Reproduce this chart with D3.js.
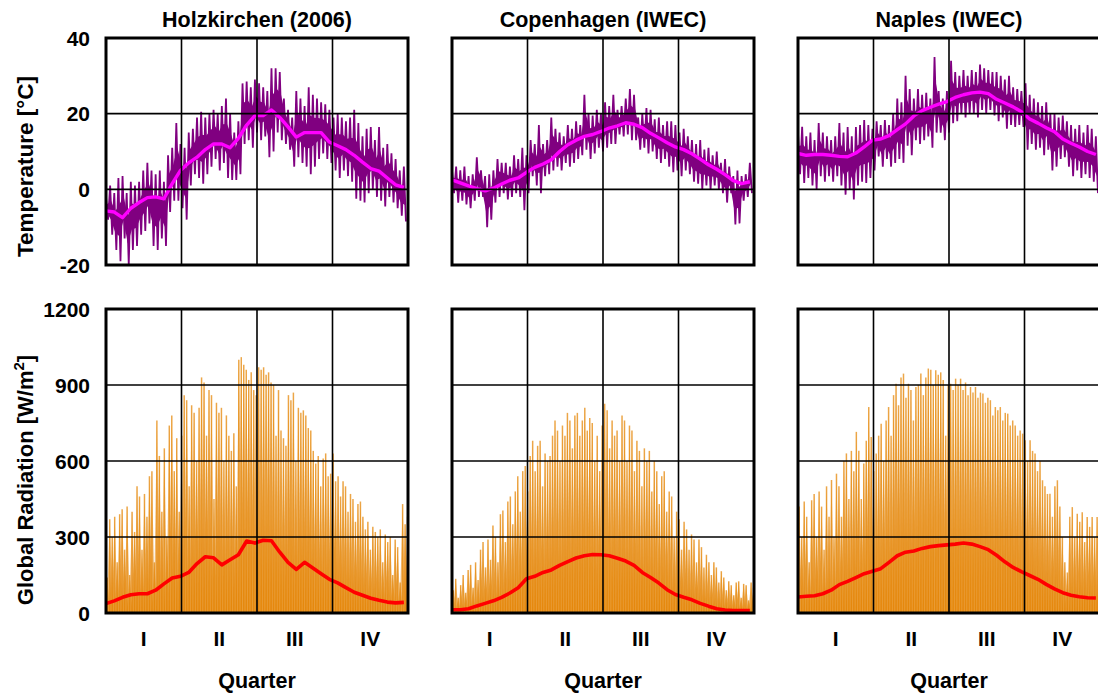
<!DOCTYPE html>
<html>
  <head>
    <meta charset="utf-8">
    <title>Temperature and global radiation</title>
    <script src="https://cdn.jsdelivr.net/npm/d3@7"></script>
    <style>
      body { margin: 0; background: #fff; }
      svg text { font-family: "Liberation Sans", Arial, sans-serif; font-weight: bold; fill: #000; }
    </style>
  </head>
  <body>
    <svg id="chart" width="1098" height="695"></svg>

    <script>
      // axis labels
      quarterLabels = ["I", "II", "III", "IV"];
      tempTicks = [-20, 0, 20, 40];
      radTicks = [0, 300, 600, 900, 1200];
      stationNames = ["Holzkirchen (2006)", "Copenhagen (IWEC)", "Naples (IWEC)"];

      // temperature peaks, one high/low pair every 5 days [°C]
      holzTempHigh = [-2, 1, -1, 3, 3.5, -1, 2, 1, 2, 5, 7, 5, 4, 5, 2, 9, 11, 17.5, 12, 11, 15, 16, 19, 20.5, 19, 20, 21, 20, 22, 24, 20, 15, 18, 28, 28.5, 27, 29, 28, 27, 26, 32, 32, 31, 24, 21, 19, 26, 24, 22, 27, 25, 24, 23, 22.5, 21, 19, 20, 19, 18, 19, 21, 17.5, 14, 16, 16.5, 13, 16.5, 11, 12, 9.5, 8, 5, 6];
      holzTempLow = [-8, -12, -16, -19, -13, -20, -16, -15, -12, -11, -9, -15, -16, -13, -15, -6, -3, -3, -5, -8, 1, 4, 3, 1.5, 4, 6, 8, 5, 7, 3, 2.5, 2.5, 4, 12, 13, 11, 15, 13, 14, 8.5, 10, 15, 13, 12, 10.5, 6, 8.5, 7, 6, 4, 6, 8, 9.5, 8, 7, 5, 3, 5, 3.5, 2, -2.5, -3, -3.5, -1, 0, -2, -3, -4.5, -2, -3.5, -5, -7, -8.5];
      copTempHigh = [5, 6, 5, 6, 3.5, 4, 8.5, 5, 3.5, 4, 5, 8, 7, 7, 6, 9, 8, 11, 9, 13, 12, 17, 12, 13, 19, 16, 15, 14, 17, 16, 18, 17, 25, 20, 19.5, 21, 20, 23, 22, 25, 21, 22, 24, 26.5, 25, 19, 20, 21.5, 21, 18.5, 19, 17, 18, 18, 17, 15, 16, 14, 13, 12, 13, 10.5, 11, 9, 10, 7, 8, 6, 3.5, 5, 3.5, 4, 7];
      copTempLow = [-1, -3.5, -3, -4, -5, -3, -2, -2, -10, -8, -3.5, -2, -1, -2.7, -2, -1, -2, -5.5, -1, 3.5, 1, -1, 3.5, 4, 5, 6, 5, 7, 6, 7, 8, 9, 10.5, 8, 9.5, 11, 10, 11, 12, 12, 14.5, 14, 14.5, 13, 13, 10.5, 11, 9.5, 10, 8, 7, 8, 6, 4.5, 5, 3.5, 5, 4, 2, 1.5, 0, 1, 0, 1, 0, -1, -3.5, -1, -9.3, -9, -3, -2, -1];
      napTempHigh = [15, 16.5, 14, 15, 13, 17.5, 15, 14, 13, 14, 17.5, 15, 16.5, 14, 16.5, 17, 18.3, 17, 16, 18, 17, 18.3, 17, 20, 24, 23, 30, 26.5, 24, 26.5, 25, 25.5, 24, 35, 26, 24, 26, 34, 31, 30, 31.5, 30, 31.5, 31, 33, 32, 31.5, 31, 31, 30, 29, 30, 27, 26.5, 26, 28, 25, 24, 23, 22, 23, 20, 20, 19, 19.5, 18, 17, 16, 17, 15, 17, 16, 14];
      napTempLow = [4, 1.7, 3, 1, 0, 3.5, 2, 3.5, 2, 3.5, 1, -1.4, 0, -2.7, 1, 2, 1.7, 3, 5, 8.7, 6, 8, 6, 7, 8, 7, 11.5, 9, 13, 12, 13, 14, 11, 15, 15, 13, 15, 17.5, 18, 20, 19, 20, 20, 19, 21, 20, 21, 19.5, 18, 19, 16, 17, 16.5, 17, 16.5, 10.5, 12, 10.5, 11, 9, 10.5, 5, 6, 8, 8.5, 6, 3.5, 5, 3, 4, 3, 2, -1];

      // moving average temperature, every 10 days [°C]
      holzTempAvg = [-5.7, -6, -7.5, -5, -3.5, -2.2, -2, -2.5, 1.5, 5, 7, 8.5, 10.5, 12, 12, 11, 13.5, 17, 19.5, 19.5, 21, 19, 16.5, 13.8, 15, 15, 15, 12.5, 11.5, 10.5, 9, 7.2, 5.5, 4.8, 3, 1.2, 0.5];
      copTempAvg = [2.5, 1.7, 0.9, 0.2, -0.4, 0.3, 1.4, 2.4, 3, 4.5, 5.8, 6.7, 7.8, 10, 11.8, 13, 14, 14.5, 15.3, 16.2, 16.8, 17.6, 17.2, 16.3, 14.8, 13.6, 12.3, 11.2, 10.5, 9.4, 8, 6.5, 5.3, 3.9, 2.3, 1.5, 2];
      napTempAvg = [9.5, 9, 9.2, 9.2, 9, 8.7, 8.6, 9.6, 11.2, 13, 13.3, 14.2, 15.8, 17.3, 19.4, 20.8, 21.7, 22.5, 23.2, 24.3, 25, 25.5, 25.7, 25.3, 23.8, 22.8, 21.8, 20.5, 18.6, 17.5, 16.3, 15.2, 13.3, 12.2, 11.2, 10, 9.2];

      // daily radiation peaks, every 3 days [W/m2]
      holzRad = [140, 370, 300, 380, 200, 390, 410, 250, 420, 150, 400, 320, 500, 460, 250, 470, 380, 540, 560, 200, 760, 620, 400, 650, 300, 740, 780, 560, 690, 400, 700, 860, 840, 500, 820, 790, 600, 810, 930, 910, 700, 880, 860, 450, 830, 790, 810, 600, 780, 700, 640, 710, 500, 1000, 1010, 980, 960, 920, 950, 880, 860, 970, 960, 970, 940, 950, 910, 900, 700, 880, 720, 690, 660, 860, 840, 870, 600, 810, 790, 800, 780, 730, 720, 640, 590, 620, 500, 610, 630, 540, 550, 630, 520, 540, 460, 520, 500, 400, 470, 450, 360, 430, 440, 380, 330, 360, 250, 340, 320, 300, 330, 200, 310, 280, 300, 150, 290, 260, 120, 430, 350, 380];
      copRad = [90, 135, 60, 110, 150, 80, 170, 190, 100, 200, 130, 250, 280, 180, 290, 210, 345, 300, 200, 390, 405, 280, 440, 460, 350, 480, 540, 400, 560, 580, 480, 620, 680, 560, 660, 680, 500, 630, 600, 620, 700, 760, 720, 600, 740, 700, 790, 760, 650, 780, 790, 700, 760, 810, 720, 770, 750, 600, 700, 560, 740, 826, 800, 650, 760, 700, 720, 600, 780, 760, 600, 740, 720, 560, 680, 640, 500, 650, 600, 640, 480, 600, 560, 430, 540, 560, 400, 480, 460, 300, 400, 370, 250, 360, 330, 250, 310, 290, 200, 290, 260, 180, 230, 200, 150, 200, 180, 120, 165, 140, 90, 125, 110, 70, 120, 125, 60, 115, 110, 50, 120, 100];
      napRad = [420, 300, 440, 380, 200, 445, 470, 300, 480, 420, 250, 500, 380, 525, 300, 550, 500, 380, 600, 630, 450, 640, 560, 715, 640, 450, 590, 680, 813, 695, 560, 630, 700, 747, 600, 760, 813, 700, 860, 905, 820, 930, 945, 850, 905, 880, 760, 892, 900, 945, 860, 930, 965, 960, 900, 958, 940, 950, 920, 700, 900, 905, 880, 925, 900, 925, 880, 910, 860, 892, 870, 892, 850, 870, 866, 830, 850, 840, 780, 813, 800, 813, 760, 790, 787, 740, 760, 740, 700, 720, 708, 682, 600, 682, 640, 630, 560, 600, 524, 500, 470, 471, 380, 500, 524, 420, 300, 200, 160, 380, 418, 300, 392, 360, 398, 280, 379, 340, 379, 300, 379, 360];

      // moving average radiation, every 10 days [W/m2]
      holzRadAvg = [37, 48, 62, 72, 76, 76, 90, 115, 138, 145, 160, 195, 222, 218, 190, 210, 230, 284, 276, 287, 285, 240, 200, 172, 200, 178, 155, 133, 119, 100, 82, 70, 58, 50, 43, 40, 42];
      copRadAvg = [13, 13, 17, 28, 38, 48, 62, 79, 100, 135, 145, 160, 170, 188, 203, 217, 226, 231, 230, 226, 216, 205, 188, 160, 140, 118, 92, 73, 62, 52, 38, 27, 17, 12, 10, 10, 10];
      napRadAvg = [63, 66, 68, 76, 90, 112, 125, 140, 155, 165, 175, 200, 226, 240, 245, 255, 262, 266, 269, 272, 276, 272, 262, 250, 228, 202, 180, 163, 148, 133, 113, 95, 80, 70, 64, 60, 59];

      tempStep = 5;
      radStep = 3;
      avgStep = 10;

      stations = [
        {name: stationNames[0], high: holzTempHigh, low: holzTempLow, tempAvg: holzTempAvg, rad: holzRad, radAvg: holzRadAvg},
        {name: stationNames[1], high: copTempHigh, low: copTempLow, tempAvg: copTempAvg, rad: copRad, radAvg: copRadAvg},
        {name: stationNames[2], high: napTempHigh, low: napTempLow, tempAvg: napTempAvg, rad: napRad, radAvg: napRadAvg}
      ];

      // layout
      svg = d3.select("#chart");
      panelLeft = [106, 452, 798];
      panelWidth = 302;
      top1 = 38; bottom1 = 265;
      top2 = 309; bottom2 = 613;

      yTemp = d3.scaleLinear().domain([-20, 40]).range([bottom1, top1]);
      yRad = d3.scaleLinear().domain([0, 1200]).range([bottom2, top2]);

      // y axis labels (left column only)
      svg.selectAll(".tempTick")
        .data(tempTicks)
        .enter().append("text")
          .attr("x", 90)
          .attr("y", function(d) { return yTemp(d); })
          .attr("dy", "0.36em")
          .attr("text-anchor", "end")
          .style("font-size", "21px")
          .text(function(d) { return d; });
      svg.selectAll(".radTick")
        .data(radTicks)
        .enter().append("text")
          .attr("x", 90)
          .attr("y", function(d) { return yRad(d); })
          .attr("dy", "0.36em")
          .attr("text-anchor", "end")
          .style("font-size", "21px")
          .text(function(d) { return d; });

      svg.append("text")
        .attr("transform", "translate(33," + ((top1 + bottom1) / 2 + 15) + ") rotate(-90)")
        .attr("text-anchor", "middle")
        .style("font-size", "22.5px")
        .text("Temperature [°C]");
      radTitle = svg.append("text")
        .attr("transform", "translate(33," + ((top2 + bottom2) / 2 + 19) + ") rotate(-90)")
        .attr("text-anchor", "middle")
        .style("font-size", "22px");
      radTitle.append("tspan").text("Global Radiation [W/m");
      radTitle.append("tspan").attr("dy", "-9").style("font-size", "15px").text("2");
      radTitle.append("tspan").attr("dy", "9").text("]");

      stations.forEach(function(s, k) {
        x0 = panelLeft[k];
        x = d3.scaleLinear().domain([0, 365]).range([x0, x0 + panelWidth]);
        g = svg.append("g");

        g.append("text")
          .attr("x", x0 + panelWidth / 2)
          .attr("y", 27)
          .attr("text-anchor", "middle")
          .style("font-size", "21.5px")
          .text(s.name);

        defs = g.append("defs");
        defs.append("clipPath").attr("id", "clipT" + k)
          .append("rect").attr("x", x0).attr("y", top1).attr("width", panelWidth).attr("height", bottom1 - top1);
        defs.append("clipPath").attr("id", "clipR" + k)
          .append("rect").attr("x", x0).attr("y", top2).attr("width", panelWidth).attr("height", bottom2 - top2);

        // temperature band: solid core plus zigzag between highs and lows
        tempG = g.append("g").attr("clip-path", "url(#clipT" + k + ")");
        tempG.append("path")
          .datum(s.high)
          .attr("fill", "#800080")
          .attr("d", d3.area()
            .x(function(d, i) { return x(i * tempStep + tempStep / 4); })
            .y0(function(d, i) { return yTemp(s.low[i] + 0.3 * (d - s.low[i])); })
            .y1(function(d, i) { return yTemp(s.low[i] + 0.68 * (d - s.low[i])); }));
        zig = [];
        s.high.forEach(function(h, i) {
          zig.push([i * tempStep, h]);
          zig.push([i * tempStep + tempStep / 2, s.low[i]]);
        });
        tempG.append("path")
          .datum(zig)
          .attr("fill", "none")
          .attr("stroke", "#800080")
          .attr("stroke-width", 1.8)
          .attr("d", d3.line()
            .x(function(d) { return x(d[0]); })
            .y(function(d) { return yTemp(d[1]); }));

        // radiation spikes: wide faint base plus thin full-height stroke
        radG = g.append("g").attr("clip-path", "url(#clipR" + k + ")");
        half = (x(radStep) - x(0)) * 1.2;
        spikes = radG.selectAll(".spike")
          .data(s.rad)
          .enter().append("g");
        spikes.append("path")
          .attr("fill", "#e38200")
          .attr("fill-opacity", 0.55)
          .attr("d", function(d, i) {
            cx = x(i * radStep + radStep / 2);
            return "M" + (cx - half) + "," + yRad(0) + "L" + cx + "," + yRad(d) + "L" + (cx + half) + "," + yRad(0) + "Z";
          });
        spikes.append("line")
          .attr("x1", function(d, i) { return x(i * radStep + radStep / 2); })
          .attr("x2", function(d, i) { return x(i * radStep + radStep / 2); })
          .attr("y1", yRad(0))
          .attr("y2", function(d) { return yRad(d); })
          .attr("stroke", "#e68a0e")
          .attr("stroke-opacity", 0.75)
          .attr("stroke-width", 1.5);

        // grid lines
        quarters = [0, 1, 2, 3, 4].map(function(q) { return x(q * 365 / 4); });
        [[top1, bottom1, tempTicks, yTemp], [top2, bottom2, radTicks, yRad]].forEach(function(p) {
          g.selectAll(null)
            .data(quarters.slice(1, 4))
            .enter().append("line")
              .attr("x1", function(d) { return d; })
              .attr("x2", function(d) { return d; })
              .attr("y1", p[0])
              .attr("y2", p[1])
              .attr("stroke", "#000")
              .attr("stroke-width", 1.6);
          g.selectAll(null)
            .data(p[2].slice(1, p[2].length - 1))
            .enter().append("line")
              .attr("x1", x0)
              .attr("x2", x0 + panelWidth)
              .attr("y1", function(d) { return p[3](d); })
              .attr("y2", function(d) { return p[3](d); })
              .attr("stroke", "#000")
              .attr("stroke-width", 1.6);
        });

        // moving averages
        avgX = function(d, i) { return x(i * avgStep); };
        tempG.append("path")
          .datum(s.tempAvg)
          .attr("fill", "none")
          .attr("stroke", "#ff00ff")
          .attr("stroke-width", 3.4)
          .attr("stroke-linejoin", "round")
          .attr("d", d3.line().x(avgX).y(function(d) { return yTemp(d); }));
        radG.append("path")
          .datum(s.radAvg)
          .attr("fill", "none")
          .attr("stroke", "#ff0000")
          .attr("stroke-width", 3.6)
          .attr("stroke-linejoin", "round")
          .attr("d", d3.line().x(avgX).y(function(d) { return yRad(d); }));

        // frames
        g.append("rect")
          .attr("x", x0).attr("y", top1)
          .attr("width", panelWidth).attr("height", bottom1 - top1)
          .attr("fill", "none").attr("stroke", "#000").attr("stroke-width", 3);
        g.append("rect")
          .attr("x", x0).attr("y", top2)
          .attr("width", panelWidth).attr("height", bottom2 - top2)
          .attr("fill", "none").attr("stroke", "#000").attr("stroke-width", 3);

        // quarter labels
        g.selectAll(null)
          .data(quarterLabels)
          .enter().append("text")
            .attr("x", function(d, i) { return (quarters[i] + quarters[i + 1]) / 2; })
            .attr("y", 638)
            .attr("dy", "0.36em")
            .attr("text-anchor", "middle")
            .style("font-size", "21px")
            .text(function(d) { return d; });
        g.append("text")
          .attr("x", x0 + panelWidth / 2)
          .attr("y", 680)
          .attr("dy", "0.36em")
          .attr("text-anchor", "middle")
          .style("font-size", "21.5px")
          .text("Quarter");
      });
    </script>
  </body>
</html>
